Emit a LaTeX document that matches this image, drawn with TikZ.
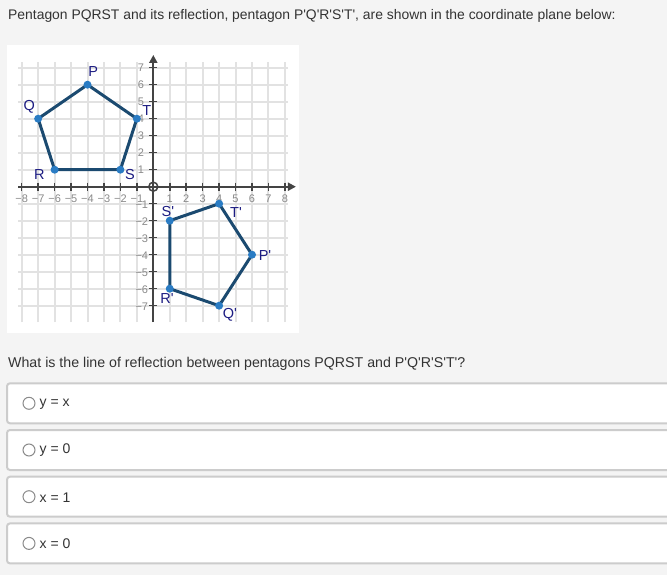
\documentclass[tikz,border=0pt]{standalone}
\usepackage{fontspec}
\setmainfont{Liberation Sans}
\usetikzlibrary{arrows.meta}
\definecolor{pagebg}{HTML}{F4F4F4}
\definecolor{gridgray}{HTML}{E2E2E2}
\definecolor{axisgray}{HTML}{444444}
\definecolor{ticktext}{HTML}{8A8A8A}
\definecolor{polyline}{HTML}{1B4A70}
\definecolor{dotblue}{HTML}{2A7CC4}
\definecolor{vlabel}{HTML}{1C1C82}
\definecolor{textgray}{HTML}{333333}
\definecolor{boxline}{HTML}{CCCCCC}
\newcommand{\pr}{\textquotesingle}

\begin{document}
\begin{tikzpicture}[x=1pt, y=-1pt,
    gridline/.style={gridgray, line width=2pt},
    axisline/.style={axisgray, line width=2pt},
    ticklab/.style={ticktext, font=\fontsize{11}{11}\selectfont, inner sep=0pt},
    vertexlab/.style={vlabel, font=\fontsize{14.5}{14.5}\selectfont, inner sep=0pt},
    poly/.style={polyline, line width=3pt, line join=round},
    dot/.style={dotblue},
    qtext/.style={textgray, inner sep=0pt, anchor=base west, font=\fontsize{13.9}{16}\selectfont},
    answerbox/.style={draw=boxline, line width=2pt, fill=white, rounded corners=3pt},
    radio/.style={draw=ticktext, line width=1pt, fill=white},
    anstext/.style={textgray, inner sep=0pt, anchor=west, font=\fontsize{14}{16}\selectfont}]
    \fill[pagebg] (0,0) rectangle (667,575);
    \useasboundingbox (0,0) rectangle (667,575);
    \node[qtext] (title) at (8,19.3) {Pentagon PQRST and its reflection, pentagon P\pr Q\pr R\pr S\pr T\pr, are shown in the coordinate plane below:};
    \fill[white] (7,45) rectangle (299,333);
    \begin{scope}[shift={(153.3,186.7)}, x=16.45pt, y=17pt]
        % grid
        \foreach \i in {-8,...,8} \draw[gridline] (\i,-7.96)--(\i,7.33);
        \foreach \j in {-7,...,7} \draw[gridline] (-8.2,\j)--(8.2,\j);
        % axes
        \draw[axisline, -{Triangle[length=8pt, width=8pt]}] (-8.2,0)--(8.67,0);
        \draw[axisline, -{Triangle[length=8pt, width=8pt]}] (0,-7.96)--(0,7.75);
        \foreach \i in {1,...,8} {
            \draw[axisgray, line width=1.5pt] (\i,0) ++(0pt,4pt)--++(0pt,-8pt);
            \draw[axisgray, line width=1.5pt] (-\i,0) ++(0pt,4pt)--++(0pt,-8pt);
            \node[ticklab] at (\i,-0.72) {\i};
            \node[ticklab] at (-\i,-0.72) {−\i};
        }
        \foreach \j in {1,...,7} {
            \draw[axisgray, line width=1.5pt] (0,\j) ++(-4pt,0pt)--++(8pt,0pt);
            \draw[axisgray, line width=1.5pt] (0,-\j) ++(-4pt,0pt)--++(8pt,0pt);
            \node[ticklab] at (-0.75,\j) {\j};
            \node[ticklab] at (-0.7,-\j-0.08) {−\j};
        }
        \draw[axisgray, line width=1.5pt] (0,0) circle (4.5pt);
        % PQRST
        \coordinate (P) at (-4,6);
        \coordinate (Q) at (-7,4);
        \coordinate (R) at (-6,1);
        \coordinate (S) at (-2,1);
        \coordinate (T) at (-1,4);
        \draw[poly] (P)--(Q)--(R)--(S)--(T)--cycle;
        % P'Q'R'S'T'
        \coordinate (Pp) at (6,-4);
        \coordinate (Qp) at (4,-7);
        \coordinate (Rp) at (1,-6);
        \coordinate (Sp) at (1,-2);
        \coordinate (Tp) at (4,-1);
        \draw[poly] (Pp)--(Qp)--(Rp)--(Sp)--(Tp)--cycle;
        \foreach \v in {P,Q,R,S,T,Pp,Qp,Rp,Sp,Tp} \fill[dot] (\v) circle (4pt);
        \node[vertexlab] (labP) at (-3.65,6.76) {P};
        \node[vertexlab] (labQ) at (-7.54,4.71) {Q};
        \node[vertexlab] (labR) at (-6.93,0.69) {R};
        \node[vertexlab] (labS) at (-1.42,0.69) {S};
        \node[vertexlab] (labT) at (-0.40,4.51) {T};
        \node[vertexlab] (labPp) at (6.79,-4.02) {P\pr};
        \node[vertexlab] (labQp) at (4.66,-7.55) {Q\pr};
        \node[vertexlab] (labRp) at (0.83,-6.55) {R\pr};
        \node[vertexlab] (labSp) at (0.89,-1.47) {S\pr};
        \node[vertexlab] (labTp) at (5.03,-1.49) {T\pr};
    \end{scope}
    \node[qtext, font=\fontsize{14.2}{16}\selectfont] (question) at (8,367.7) {What is the line of reflection between pentagons PQRST and P\pr Q\pr R\pr S\pr T\pr?};
    \foreach \k/\t in {0/{y = x},1/{y = 0},2/{x = 1},3/{x = 0}} {
        \draw[answerbox] (7,{383.3+46.7*\k}) rectangle (672,{423.3+46.7*\k});
        \draw[radio] (29,{403.3+46.7*\k}) circle (6pt);
        \node[anstext] (ans\k) at (39.5,{403.8+46.7*\k}) {\t};
    }
\end{tikzpicture}
\end{document}
